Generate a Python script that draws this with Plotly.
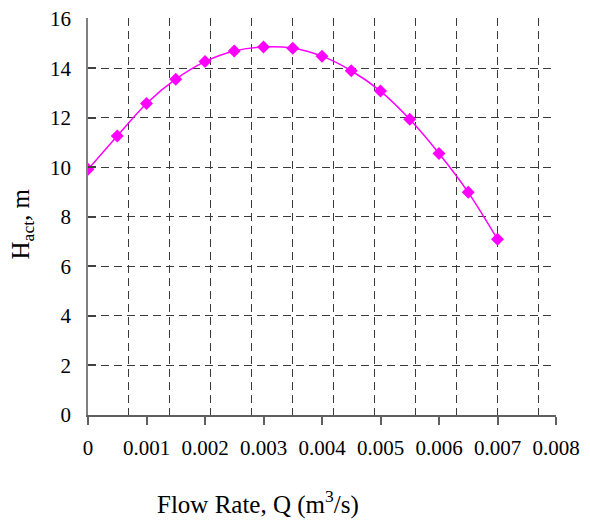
import plotly.graph_objects as go

# Pump head vs flow rate
flow_rate = [0, 0.0005, 0.001, 0.0015, 0.002, 0.0025, 0.003, 0.0035,
             0.004, 0.0045, 0.005, 0.0055, 0.006, 0.0065, 0.007]
head_act = [9.92, 11.27, 12.58, 13.56, 14.27, 14.70, 14.86, 14.81,
            14.49, 13.90, 13.08, 11.94, 10.56, 8.99, 7.10]

x_ticks = [0, 0.001, 0.002, 0.003, 0.004, 0.005, 0.006, 0.007, 0.008]
x_tick_text = ["0", "0.001", "0.002", "0.003", "0.004", "0.005", "0.006", "0.007", "0.008"]
y_ticks = [0, 2, 4, 6, 8, 10, 12, 14, 16]

FONT = "Liberation Serif, Times New Roman, serif"
GRID = "#3a3a3a"

fig = go.Figure()
fig.add_trace(go.Scatter(
    x=flow_rate, y=head_act, mode="lines+markers",
    line=dict(color="#FF00FF", width=1.5, shape="spline", smoothing=0.8),
    marker=dict(symbol="diamond", size=10, color="#FF00FF"),
    showlegend=False,
))

fig.update_layout(
    width=590, height=520,
    margin=dict(l=88, r=34, t=18, b=105),
    paper_bgcolor="white", plot_bgcolor="white",
    font=dict(family=FONT, size=21, color="black"),
    xaxis=dict(
        range=[0, 0.008], tickvals=x_ticks, ticktext=x_tick_text,
        showgrid=False, zeroline=False, automargin=False,
        showline=True, linecolor="#606060", linewidth=1.5,
        ticks="outside", ticklen=8, tickcolor="#606060", tickwidth=1.5,
        tickfont=dict(family=FONT, size=21),
        ticklabelstandoff=5,
    ),
    # secondary x axis carrying the vertical dashed grid
    xaxis2=dict(
        range=[0, 0.008], overlaying="x", side="top", automargin=False,
        tick0=0, dtick=0.0007, showticklabels=False, ticks="",
        showgrid=True, gridcolor=GRID, gridwidth=1, griddash="8px,5px",
        zeroline=False, showline=False,
    ),
    yaxis=dict(
        range=[0, 16.03], tickvals=y_ticks,
        showgrid=True, gridcolor=GRID, gridwidth=1, griddash="8px,5px",
        zeroline=False, automargin=False,
        showline=True, linecolor="#808080", linewidth=1.5,
        ticks="inside", ticklen=8, tickcolor="#404040", tickwidth=1.5,
        tickfont=dict(family=FONT, size=21),
        ticklabelstandoff=11,
    ),
    annotations=[
        dict(text="Flow Rate, Q (m<sup>3</sup>/s)", xref="paper", yref="paper",
             x=0.363, y=-0.22, xanchor="center", yanchor="middle", showarrow=False,
             font=dict(family=FONT, size=25)),
        dict(text="H<sub>act</sub>, m", xref="paper", yref="paper", textangle=-90,
             x=-0.141, y=0.48, xanchor="center", yanchor="middle", showarrow=False,
             font=dict(family=FONT, size=25)),
    ],
)

# invisible trace so the grid axis is rendered
fig.add_trace(go.Scatter(x=[0, 0.008], y=[0, 0], xaxis="x2", mode="markers",
                         marker=dict(opacity=0), hoverinfo="skip", showlegend=False))

fig.write_html("out.html")
